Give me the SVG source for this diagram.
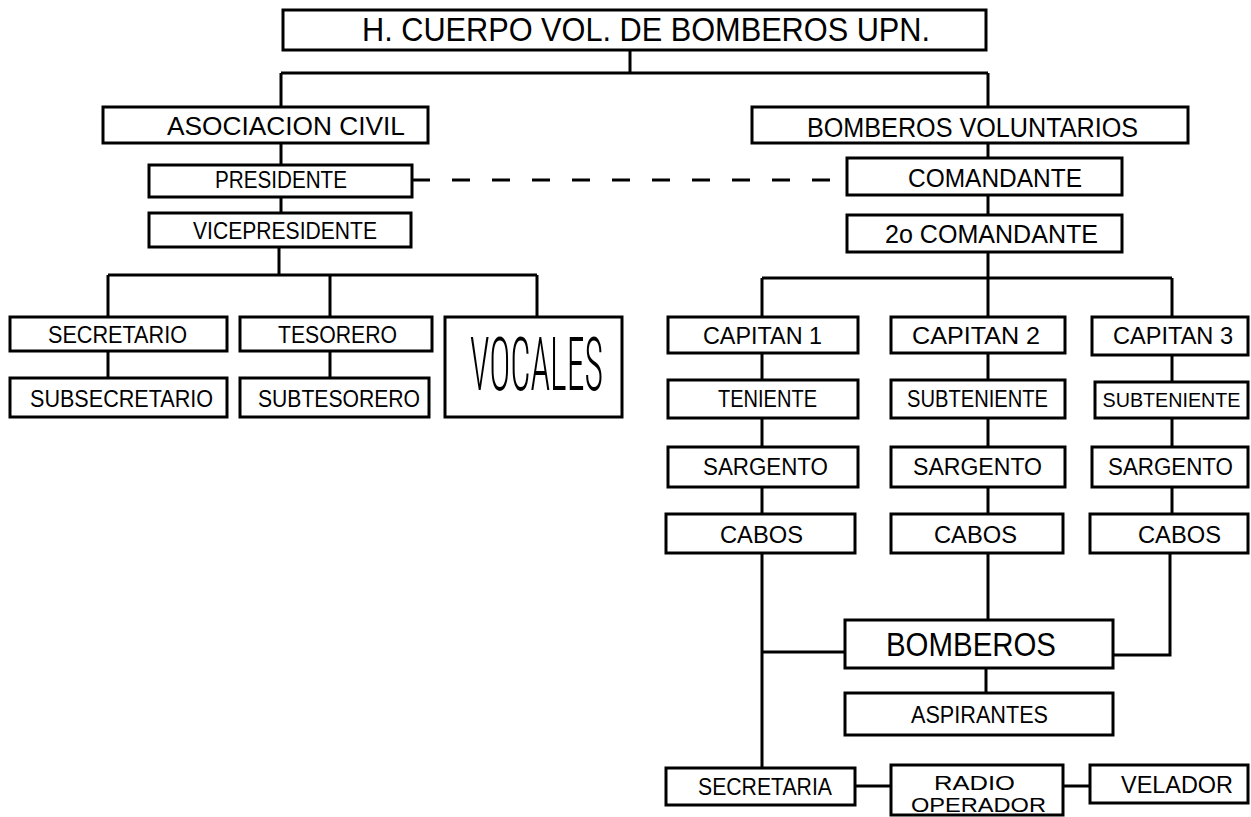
<svg xmlns="http://www.w3.org/2000/svg" width="1251" height="817" viewBox="0 0 1251 817">
<style>
rect{fill:#fff;stroke:#000;stroke-width:3}
.c path{fill:none;stroke:#000;stroke-width:3}
.c .d{stroke-dasharray:18 22}
text{font-family:"Liberation Sans",Arial,sans-serif;font-size:23px;fill:#000;text-anchor:middle}
.big{font-family:"Roboto Condensed","Liberation Sans Narrow","Liberation Sans",Arial,sans-serif;font-size:34px;font-weight:300}
</style>
<rect x="0" y="0" width="1251" height="817" style="stroke:none"/>
<g class="c" id="connectors">
<path d="M630 50V73M281 73H988M281 73V107M988 73V107"/>
<path d="M281 143V165M281 197V213M279 247V275M108 275H537M108 275V317M330 275V317M537 275V317M108 351V378M330 351V378"/>
<path class="d" d="M412 180H847"/>
<path d="M988 143V158M988 195V215M988 252V278M762 278H1172M762 278V317M988 278V317M1172 278V317"/>
<path d="M762 353V380M762 418V447M762 487V514M988 353V380M988 418V447M988 487V514M1172 355V382M1172 418V447M1172 487V514"/>
<path d="M762 553V768M762 652H845M988 553V620M1170 553V655H1113M986 668V693M855 786H891M1063 786H1090"/>
</g>
<g id="n_title"><rect x="283" y="10" width="703" height="40"/><text x="646" y="41" style="font-size:33px" textLength="568" lengthAdjust="spacingAndGlyphs">H. CUERPO VOL. DE BOMBEROS UPN.</text></g>
<g id="n_asoc"><rect x="103" y="107" width="325" height="36"/><text x="286" y="135" style="font-size:25px" textLength="238" lengthAdjust="spacingAndGlyphs">ASOCIACION CIVIL</text></g>
<g id="n_pres"><rect x="149" y="165" width="263" height="32"/><text x="281" y="188" textLength="132" lengthAdjust="spacingAndGlyphs">PRESIDENTE</text></g>
<g id="n_vice"><rect x="149" y="213" width="262" height="34"/><text x="285" y="239" textLength="184" lengthAdjust="spacingAndGlyphs">VICEPRESIDENTE</text></g>
<g id="n_secretario"><rect x="10" y="317" width="217" height="34"/><text x="117.5" y="343" textLength="139" lengthAdjust="spacingAndGlyphs">SECRETARIO</text></g>
<g id="n_tesorero"><rect x="240" y="317" width="192" height="34"/><text x="337.5" y="343" textLength="119" lengthAdjust="spacingAndGlyphs">TESORERO</text></g>
<g id="n_subsecretario"><rect x="10" y="378" width="217" height="39"/><text x="121.5" y="407" textLength="183" lengthAdjust="spacingAndGlyphs">SUBSECRETARIO</text></g>
<g id="n_subtesorero"><rect x="240" y="378" width="189" height="39"/><text x="339" y="407" textLength="162" lengthAdjust="spacingAndGlyphs">SUBTESORERO</text></g>
<g id="n_vocales"><rect x="445" y="317" width="177" height="100"/><text class="big" transform="translate(536.5 390) scale(1 2.2)" x="0" y="0" textLength="133" lengthAdjust="spacingAndGlyphs">VOCALES</text></g>
<g id="n_bv"><rect x="752" y="107" width="436" height="36"/><text x="972.5" y="137" style="font-size:27px" textLength="331" lengthAdjust="spacingAndGlyphs">BOMBEROS VOLUNTARIOS</text></g>
<g id="n_com"><rect x="847" y="158" width="275" height="37"/><text x="995" y="187" style="font-size:25px" textLength="174" lengthAdjust="spacingAndGlyphs">COMANDANTE</text></g>
<g id="n_com2"><rect x="847" y="215" width="275" height="37"/><text x="991.5" y="243" style="font-size:25px" textLength="213" lengthAdjust="spacingAndGlyphs">2o COMANDANTE</text></g>
<g id="n_cap1"><rect x="668" y="317" width="190" height="36"/><text x="762.5" y="344" textLength="119" lengthAdjust="spacingAndGlyphs">CAPITAN 1</text></g>
<g id="n_cap2"><rect x="891" y="317" width="174" height="36"/><text x="976" y="344" textLength="128" lengthAdjust="spacingAndGlyphs">CAPITAN 2</text></g>
<g id="n_cap3"><rect x="1092" y="317" width="156" height="38"/><text x="1173" y="344" textLength="120" lengthAdjust="spacingAndGlyphs">CAPITAN 3</text></g>
<g id="n_ten1"><rect x="668" y="380" width="190" height="38"/><text x="767.5" y="407" textLength="99" lengthAdjust="spacingAndGlyphs">TENIENTE</text></g>
<g id="n_sub2"><rect x="891" y="380" width="174" height="38"/><text x="977.5" y="407" textLength="141" lengthAdjust="spacingAndGlyphs">SUBTENIENTE</text></g>
<g id="n_sub3"><rect x="1095" y="382" width="153" height="36"/><text x="1171.5" y="407" style="font-size:21px" textLength="138" lengthAdjust="spacingAndGlyphs">SUBTENIENTE</text></g>
<g id="n_sar1"><rect x="668" y="447" width="190" height="40"/><text x="765.5" y="475" textLength="125" lengthAdjust="spacingAndGlyphs">SARGENTO</text></g>
<g id="n_sar2"><rect x="891" y="447" width="174" height="40"/><text x="977.5" y="475" textLength="129" lengthAdjust="spacingAndGlyphs">SARGENTO</text></g>
<g id="n_sar3"><rect x="1092" y="447" width="156" height="40"/><text x="1170.5" y="475" textLength="125" lengthAdjust="spacingAndGlyphs">SARGENTO</text></g>
<g id="n_cab1"><rect x="666" y="514" width="189" height="39"/><text x="761.5" y="543" textLength="83" lengthAdjust="spacingAndGlyphs">CABOS</text></g>
<g id="n_cab2"><rect x="891" y="514" width="172" height="39"/><text x="975.5" y="543" textLength="83" lengthAdjust="spacingAndGlyphs">CABOS</text></g>
<g id="n_cab3"><rect x="1090" y="514" width="158" height="39"/><text x="1179.5" y="543" textLength="83" lengthAdjust="spacingAndGlyphs">CABOS</text></g>
<g id="n_bomberos"><rect x="845" y="620" width="268" height="48"/><text x="971" y="656" style="font-size:34px" textLength="170" lengthAdjust="spacingAndGlyphs">BOMBEROS</text></g>
<g id="n_aspirantes"><rect x="845" y="693" width="268" height="42"/><text x="979.5" y="723" textLength="137" lengthAdjust="spacingAndGlyphs">ASPIRANTES</text></g>
<g id="n_secretaria"><rect x="666" y="768" width="189" height="37"/><text x="765" y="795" textLength="134" lengthAdjust="spacingAndGlyphs">SECRETARIA</text></g>
<g id="n_radio"><rect x="891" y="765" width="172" height="50"/><text x="974.5" y="790" style="font-size:20px" textLength="81" lengthAdjust="spacingAndGlyphs">RADIO</text><text x="978.5" y="812" style="font-size:20px" textLength="135" lengthAdjust="spacingAndGlyphs">OPERADOR</text></g>
<g id="n_velador"><rect x="1090" y="765" width="158" height="38"/><text x="1177" y="793" textLength="112" lengthAdjust="spacingAndGlyphs">VELADOR</text></g>
</svg>
